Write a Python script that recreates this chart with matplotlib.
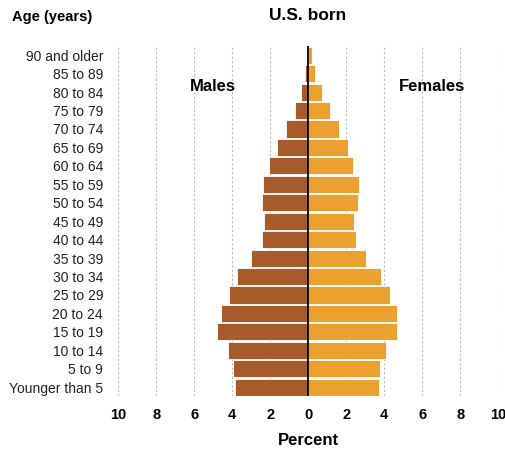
import matplotlib
matplotlib.use("Agg")
import matplotlib.pyplot as plt
import numpy as np

plt.rcParams['font.family'] = ['Liberation Sans', 'DejaVu Sans']

ages = ["90 and older", "85 to 89", "80 to 84", "75 to 79", "70 to 74", "65 to 69",
        "60 to 64", "55 to 59", "50 to 54", "45 to 49", "40 to 44", "35 to 39",
        "30 to 34", "25 to 29", "20 to 24", "15 to 19", "10 to 14", "5 to 9",
        "Younger than 5"]
males = [0.08, 0.16, 0.37, 0.70, 1.16, 1.66, 2.05, 2.37, 2.44, 2.32, 2.42, 3.0,
         3.75, 4.17, 4.6, 4.79, 4.24, 3.95, 3.87]
females = [0.18, 0.35, 0.74, 1.16, 1.63, 2.09, 2.37, 2.67, 2.62, 2.42, 2.49, 3.02,
           3.84, 4.28, 4.68, 4.65, 4.07, 3.76, 3.70]
xticks = [-10, -8, -6, -4, -2, 0, 2, 4, 6, 8, 10]
xticklabels = ["10", "8", "6", "4", "2", "0", "2", "4", "6", "8", "10"]

male_color = "#A65B28"
female_color = "#EAA12F"

fig = plt.figure(figsize=(5.06, 4.5), dpi=100)
ax = fig.add_axes([118.3 / 506, 0.1191, 380 / 506, 0.7787])

y = np.arange(len(ages))
ax.barh(y, [-m for m in males], height=0.93, color=male_color, edgecolor="white",
        linewidth=0.6, zorder=3)
ax.barh(y, females, height=0.93, color=female_color, edgecolor="white",
        linewidth=0.6, zorder=3)
ax.axvline(0, color="black", linewidth=1.3, zorder=4)

ax.set_xlim(-10, 10)
ax.set_ylim(len(ages) - 0.5, -0.5)
ax.set_xticks(xticks)
ax.set_xticklabels(xticklabels, fontsize=10.5, fontweight="bold")
ax.set_yticks(y)
ax.set_yticklabels(ages, fontsize=10, color="#222222")
ax.tick_params(axis="both", length=0)
ax.tick_params(axis="y", pad=11)
ax.tick_params(axis="x", pad=8)
for s in ax.spines.values():
    s.set_visible(False)
for xv in xticks:
    if xv != 0:
        ax.axvline(xv, color="#BBBBBB", linewidth=0.8, linestyle=(0, (2, 2)), zorder=1)

ax.set_xlabel("Percent", fontsize=12, fontweight="bold", labelpad=8)

fig.text(12 / 506, 1 - 17 / 450, "Age (years)", fontsize=10.5, fontweight="bold",
         ha="left", va="center")
fig.text(308 / 506, 1 - 16 / 450, "U.S. born", fontsize=12.5, fontweight="bold",
         ha="center", va="center")
ax.text(-5.0, 1.7, "Males", fontsize=12, fontweight="bold", ha="center", va="center")
ax.text(6.5, 1.7, "Females", fontsize=12, fontweight="bold", ha="center", va="center")

fig.savefig("out.png", dpi=100)
